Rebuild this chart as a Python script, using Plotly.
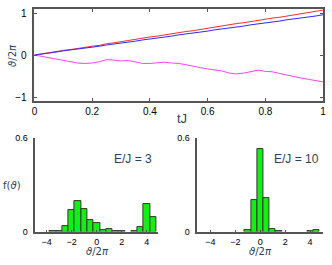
import plotly.graph_objects as go

# ---- data: top panel ----
t = [i * 0.025 for i in range(41)]
red = [0.00, 0.03, 0.05, 0.08, 0.11, 0.13, 0.16, 0.19, 0.21, 0.23, 0.27, 0.29, 0.32, 0.34, 0.37,
       0.40, 0.43, 0.45, 0.48, 0.51, 0.53, 0.56, 0.58, 0.61, 0.64, 0.67, 0.69, 0.72, 0.75, 0.77,
       0.80, 0.83, 0.85, 0.88, 0.90, 0.93, 0.96, 0.99, 1.01, 1.04, 1.07]
blue = [0.00, 0.02, 0.05, 0.07, 0.10, 0.12, 0.14, 0.17, 0.19, 0.21, 0.24, 0.26, 0.29, 0.31, 0.33,
        0.36, 0.38, 0.41, 0.43, 0.45, 0.48, 0.50, 0.53, 0.55, 0.57, 0.60, 0.62, 0.65, 0.67, 0.69,
        0.72, 0.74, 0.77, 0.79, 0.81, 0.84, 0.86, 0.89, 0.91, 0.93, 0.96]
magenta = [0.00, -0.03, -0.07, -0.10, -0.12, -0.15, -0.19, -0.20, -0.19, -0.16, -0.11, -0.12,
           -0.14, -0.13, -0.16, -0.20, -0.20, -0.19, -0.17, -0.19, -0.20, -0.23, -0.27, -0.30,
           -0.33, -0.35, -0.38, -0.43, -0.45, -0.43, -0.39, -0.36, -0.39, -0.40, -0.44, -0.48,
           -0.51, -0.55, -0.58, -0.61, -0.64]

# ---- data: histograms ----
bins_left = [-3.5, -3.0, -2.5, -2.0, -1.5, -1.0, -0.5, 0.0, 0.5, 1.0, 1.5, 2.0, 3.0, 3.5, 4.0, 4.5]
f_left = [0.002, 0.006, 0.033, 0.138, 0.196, 0.146, 0.076, 0.054, 0.008, 0.014, 0.004, 0.002,
          0.003, 0.027, 0.178, 0.095]
bins_right = [-1.0, -0.5, 0.0, 0.5, 1.0, 1.5, 4.0, 4.5]
f_right = [0.012, 0.204, 0.528, 0.212, 0.016, 0.004, 0.004, 0.008]

top_xticks = [0, 0.2, 0.4, 0.6, 0.8, 1]
top_xlabels = ["0", "0.2", "0.4", "0.6", "0.8", "1"]
top_yticks = [-1, 0, 1]
hist_xticks = [-4, -2, 0, 2, 4]
hist_yticks = [0, 0.6]
hist_ylabels = ["0", "0.6"]

W, H = 332, 265
FONT = "Liberation Sans, Arial, DejaVu Sans, sans-serif"
MFONT = "DejaVu Sans, sans-serif"
AX = "#555555"

def fx(px):
    return px / W

def fy(py):
    return 1 - py / H

fig = go.Figure()
fig.add_trace(go.Scatter(x=t, y=red, mode="lines", line=dict(color="#ff2a2a", width=1), xaxis="x", yaxis="y"))
fig.add_trace(go.Scatter(x=t, y=blue, mode="lines", line=dict(color="#2a2aff", width=1), xaxis="x", yaxis="y"))
fig.add_trace(go.Scatter(x=t, y=magenta, mode="lines", line=dict(color="#ff40ff", width=1), xaxis="x", yaxis="y"))

fig.add_trace(go.Bar(x=bins_left, y=f_left, width=0.5, marker=dict(color="#14ee14", line=dict(color="#333333", width=1)),
                     xaxis="x2", yaxis="y2"))
fig.add_trace(go.Bar(x=bins_right, y=f_right, width=0.5, marker=dict(color="#14ee14", line=dict(color="#333333", width=1)),
                     xaxis="x3", yaxis="y3"))

tickfont = dict(family=FONT, size=10, color="#000")
hfont = dict(family=FONT, size=9, color="#000")

fig.update_layout(
    width=W, height=H, margin=dict(l=0, r=0, t=0, b=0),
    paper_bgcolor="white", plot_bgcolor="white", showlegend=False, bargap=0,
    xaxis=dict(domain=[fx(32), fx(326)], range=[0, 1], tickvals=top_xticks, ticktext=top_xlabels,
               ticks="inside", ticklen=3, tickcolor=AX, showline=True, linecolor=AX, linewidth=1.5,
               mirror="ticks", showgrid=False, zeroline=False, tickfont=tickfont, anchor="y"),
    yaxis=dict(domain=[fy(100), fy(4)], range=[-1.1, 1.1], tickvals=top_yticks,
               ticks="inside", ticklen=3, tickcolor=AX, showline=True, linecolor=AX, linewidth=1.5,
               mirror="ticks", showgrid=False, zeroline=False, tickfont=tickfont, anchor="x",
               ticklabelstandoff=4),
    xaxis2=dict(domain=[fx(33), fx(158)], range=[-4.9, 4.9], tickvals=hist_xticks,
                ticks="inside", ticklen=2, tickcolor=AX, showline=True, linecolor=AX, linewidth=1.5,
                showgrid=False, zeroline=False, tickfont=hfont, anchor="y2", ticklabelstandoff=1),
    yaxis2=dict(domain=[fy(235.5), fy(138.3)], range=[0, 0.6], tickvals=hist_yticks, ticktext=hist_ylabels,
                ticks="", showline=True, linecolor=AX, linewidth=1.5,
                showgrid=False, zeroline=False, tickfont=hfont, anchor="x2", ticklabelstandoff=4),
    xaxis3=dict(domain=[fx(198), fx(326)], range=[-5.05, 5.05], tickvals=hist_xticks,
                ticks="inside", ticklen=2, tickcolor=AX, showline=True, linecolor=AX, linewidth=1.5,
                showgrid=False, zeroline=False, tickfont=hfont, anchor="y3", ticklabelstandoff=1),
    yaxis3=dict(domain=[fy(235.5), fy(138.3)], range=[0, 0.6], tickvals=hist_yticks, ticktext=hist_ylabels,
                ticks="", showline=True, linecolor=AX, linewidth=1.5,
                showgrid=False, zeroline=False, tickfont=hfont, anchor="x3", ticklabelstandoff=4),
)

ann = [
    dict(text="tJ", x=fx(182), y=fy(118), yanchor="middle", font=dict(family=FONT, size=13)),
    dict(text="<i>ϑ</i>/2<i>π</i>", x=fx(9), y=fy(52), yanchor="middle", textangle=-90, font=dict(family=MFONT, size=10)),
    dict(text="f(<i>ϑ</i>)", x=fx(9), y=fy(188), yanchor="middle", font=dict(family=MFONT, size=10)),
    dict(text="<i>ϑ</i>/2<i>π</i>", x=fx(96), y=fy(264), yanchor="bottom", font=dict(family=MFONT, size=10)),
    dict(text="<i>ϑ</i>/2<i>π</i>", x=fx(262), y=fy(264), yanchor="bottom", font=dict(family=MFONT, size=10)),
    dict(text="E/J = 3", x=fx(154), y=fy(160), yanchor="middle", xanchor="right", font=dict(family=FONT, size=12)),
    dict(text="E/J = 10", x=fx(324), y=fy(160), yanchor="middle", xanchor="right", font=dict(family=FONT, size=12)),
]
for a in ann:
    a.setdefault("xanchor", "center")
    fig.add_annotation(xref="paper", yref="paper", showarrow=False, **a)

fig.write_html("out.html", config={"displayModeBar": False},
               post_script="document.body.style.margin='0';document.body.style.overflow='hidden';")
